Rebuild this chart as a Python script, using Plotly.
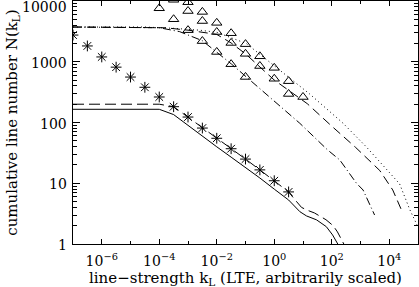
import plotly.graph_objects as go
import math

# ---------------- data ----------------
# asterisks
star_k = [1e-7, 3.16e-7, 1e-6, 3.16e-6, 1e-5, 3.16e-5, 1e-4, 3.16e-4,
          1e-3, 3.16e-3, 1e-2, 3.16e-2, 0.1, 0.316, 1.0, 3.16]
star_n = [2750, 1820, 1200, 815, 560, 380, 263, 182,
          123, 81, 55, 37, 25, 16.6, 11.0, 7.2]

# triangles (three sets)
triA_k = [1e-3, 3.16e-3, 1e-2, 3.16e-2, 0.1, 0.316, 1.0, 3.16, 10.0]
triA_n = [9550, 6610, 4370, 2950, 1950, 1230, 794, 479, 263]
triB_k = [3.16e-4, 1e-3, 3.16e-3, 1e-2, 3.16e-2, 0.1, 0.316, 1.0, 3.16]
triB_n = [10470, 6840, 4680, 3090, 2040, 1350, 851, 525, 295]
triC_k = [3.16e-5, 1e-4, 3.16e-4, 1e-3, 3.16e-3, 1e-2, 3.16e-2, 0.1]
triC_n = [11200, 7590, 5010, 3310, 2190, 1450, 912, 562]

# lower solid curve
solid_k = [1e-7, 1e-4, 3.16e-4, 1e-3, 3.16e-3, 1e-2, 3.16e-2, 0.1, 0.316,
           1.0, 3.16, 7.8, 13.2, 29.5, 64.6, 107, 162]
solid_n = [165, 165, 135, 89, 59.6, 39.8, 26.9, 18.2, 12.2,
           8.0, 5.3, 3.4, 2.9, 2.5, 1.93, 1.41, 1.0]

# lower dashed curve
ldash_k = [1e-7, 1e-4, 3.16e-4, 1e-3, 3.16e-3, 1e-2, 3.16e-2, 0.1, 0.316,
           1.0, 3.16, 5.0, 8.9, 14.1, 25.1, 63, 112, 158, 263]
ldash_n = [200, 200, 182, 123, 81, 55, 37, 25, 16.6,
           11.0, 7.2, 5.5, 4.0, 3.6, 3.24, 2.51, 2.0, 1.58, 1.0]

# upper dash-dot curve
dd_k = [1e-7, 2.63e-5, 1e-4, 5.13e-4, 3.16e-3, 3.24e-2, 0.912, 7.76,
        72.4, 190, 724, 1230, 3090]
dd_n = [3730, 3730, 3630, 3130, 2220, 918, 234, 97,
        35.2, 24.2, 10.0, 7.74, 3.0]

# upper dashed curve
udash_k = [1e-7, 3.16e-5, 1.58e-4, 1e-3, 1e-2, 3.16e-2, 0.1, 1.0,
           14.1, 100, 676, 4680, 13200, 29500]
udash_n = [3730, 3730, 3630, 3310, 2820, 2040, 1350, 500,
           204, 87, 38.9, 16.2, 7.76, 3.24]

# upper dotted curve
dot_k = [1e-7, 3.16e-5, 3.16e-4, 2.51e-3, 1e-2, 0.107, 17.0, 245,
         1585, 1e4, 22900, 51300, 87100, 1e5]
dot_n = [3730, 3730, 3550, 3310, 3055, 1995, 295, 97.7,
         39.8, 15.5, 9.77, 3.72, 2.19, 1.9]

# axis tick labels
x_tick_vals = [1e-6, 1e-4, 1e-2, 1e0, 1e2, 1e4]
x_tick_text = ["10<sup>\u22126</sup>", "10<sup>\u22124</sup>", "10<sup>\u22122</sup>",
               "10<sup>0</sup>", "10<sup>2</sup>", "10<sup>4</sup>"]
x_minor_vals = [1e-7, 1e-5, 1e-3, 1e-1, 1e1, 1e3, 1e5]
y_tick_vals = [1, 10, 100, 1000, 10000]
y_tick_text = ["1", "10", "100", "1000", "10000"]
y_minor_vals = [m * 10 ** e for e in range(0, 4) for m in range(2, 10)]
x_title = "line\u2212strength k<sub>L</sub> (LTE, arbitrarily scaled)"
y_title = "cumulative line number N(k<sub>L</sub>)"

FONT = "DejaVu Serif"
BLACK = "#000000"

fig = go.Figure()

def line(k, n, dash):
    fig.add_trace(go.Scatter(x=k, y=n, mode="lines",
                             line=dict(color=BLACK, width=1, dash=dash),
                             hoverinfo="skip", showlegend=False))

line(solid_k, solid_n, "solid")
line(ldash_k, ldash_n, "11px,5px")
line(dd_k, dd_n, "8px,3px,1px,3px")
line(udash_k, udash_n, "9px,5px")
line(dot_k, dot_n, "1px,3px")

fig.add_trace(go.Scatter(x=star_k, y=star_n, mode="markers",
                         marker=dict(symbol="asterisk-open", size=9, color=BLACK,
                                     line=dict(color=BLACK, width=1)),
                         showlegend=False))
for tk, tn in [(triA_k, triA_n), (triB_k, triB_n), (triC_k, triC_n)]:
    fig.add_trace(go.Scatter(x=tk, y=tn, mode="markers",
                             marker=dict(symbol="triangle-up-open", size=9,
                                         color=BLACK,
                                         line=dict(color=BLACK, width=1)),
                             showlegend=False))

# y tick labels as annotations so the top one sits inside the page
for v, t in zip(y_tick_vals, y_tick_text):
    fig.add_annotation(x=0, xref="paper", y=math.log10(v), yref="y",
                       text=t, showarrow=False, xanchor="right",
                       yanchor="middle", xshift=-4,
                       yshift=(-6 if v == 10000 else -1),
                       font=dict(family=FONT, size=14, color=BLACK))

# x-axis title
fig.add_annotation(x=0.5, xref="paper", y=0, yref="paper",
                   text=x_title, showarrow=False, xanchor="center",
                   yanchor="middle", yshift=-34, borderpad=0,
                   font=dict(family=FONT, size=15, color=BLACK))

fig.update_layout(
    width=419, height=287,
    margin=dict(l=73, r=1, t=1, b=43),
    paper_bgcolor="white", plot_bgcolor="white",
    font=dict(family=FONT, size=14, color=BLACK),
)
fig.update_xaxes(
    type="log", range=[-7, 5],
    showgrid=False, zeroline=False,
    showline=True, linecolor=BLACK, linewidth=1, mirror="ticks",
    ticks="inside", ticklen=5, tickwidth=1, tickcolor=BLACK,
    tickmode="array", tickvals=x_tick_vals, ticktext=x_tick_text,
    tickfont=dict(family=FONT, size=14, color=BLACK),
    ticklabelstandoff=4,
    minor=dict(tickmode="array", tickvals=x_minor_vals, ticks="inside",
               ticklen=3, tickcolor=BLACK, showgrid=False),
)
fig.update_yaxes(
    type="log", range=[0, 4.0],
    showgrid=False, zeroline=False,
    showline=True, linecolor=BLACK, linewidth=1, mirror="ticks",
    ticks="inside", ticklen=7, tickwidth=1, tickcolor=BLACK,
    tickmode="array", tickvals=y_tick_vals, ticktext=y_tick_text,
    showticklabels=False,
    minor=dict(tickmode="array", tickvals=y_minor_vals, ticks="inside",
               ticklen=4, tickcolor=BLACK, showgrid=False),
    title=dict(text=y_title,
               font=dict(family=FONT, size=15, color=BLACK), standoff=50),
)

fig.write_html("out.html",
               config={"displayModeBar": False},
               post_script="document.body.style.margin='0';document.body.style.overflow='hidden';")
